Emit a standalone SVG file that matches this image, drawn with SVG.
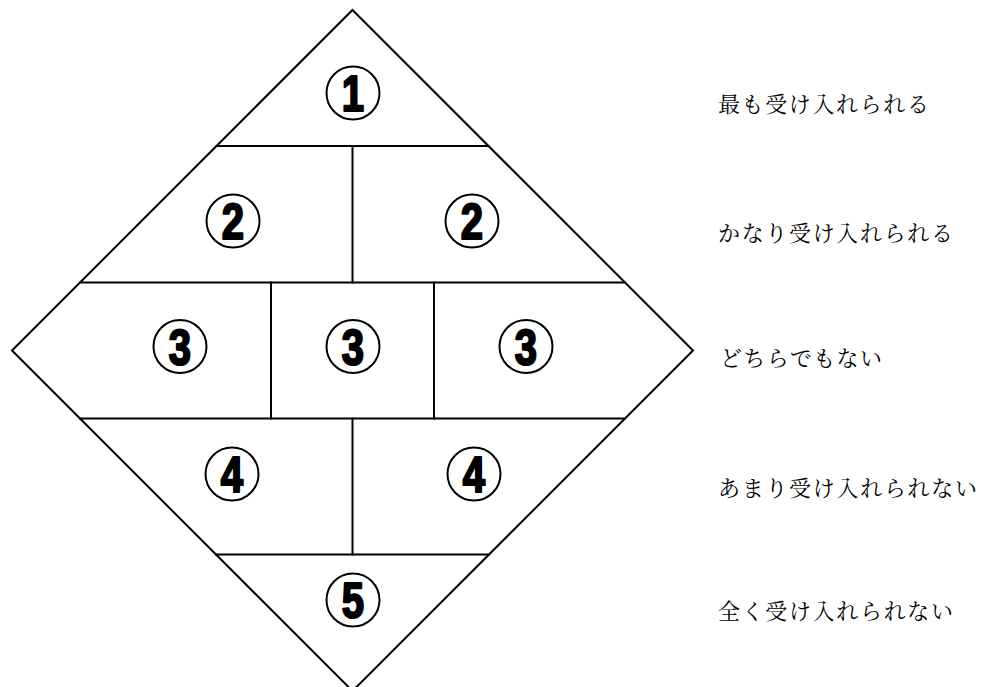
<svg xmlns="http://www.w3.org/2000/svg" width="991" height="687" viewBox="0 0 991 687">
  <style>
    .ln { stroke: #000; stroke-width: 2; fill: none; stroke-linecap: square; }
    .ring { fill: #fff; stroke: #000; stroke-width: 2; }
    .num { font-family: "Liberation Sans", Arial, sans-serif; font-weight: bold; font-size: 50px; fill: #000; stroke: #000; stroke-width: 2.2; stroke-linejoin: round; text-anchor: middle; }
    .lbl { font-family: "Noto Serif CJK JP", "Noto Sans CJK JP", serif; font-size: 22px; fill: #000; }
  </style>
  <rect width="991" height="687" fill="#fff"/>
  <g id="connectors">
    <polygon class="ln" points="352.5,10 693,350.5 352.5,691 12,350.5"/>
    <line class="ln" x1="216.5" y1="146" x2="488.5" y2="146"/>
    <line class="ln" x1="80" y1="282.5" x2="625" y2="282.5"/>
    <line class="ln" x1="80" y1="418.5" x2="625" y2="418.5"/>
    <line class="ln" x1="216" y1="554.5" x2="489" y2="554.5"/>
    <line class="ln" x1="352.5" y1="146" x2="352.5" y2="282.5"/>
    <line class="ln" x1="271" y1="282.5" x2="271" y2="418.5"/>
    <line class="ln" x1="434" y1="282.5" x2="434" y2="418.5"/>
    <line class="ln" x1="352.5" y1="418.5" x2="352.5" y2="554.5"/>
  </g>
  <g id="n1" transform="translate(353,93)"><circle class="ring" r="26.5"/><text class="num" transform="scale(0.8,1)" y="18">1</text></g>
  <g id="n2a" transform="translate(233,221)"><circle class="ring" r="26.5"/><text class="num" transform="scale(0.8,1)" y="18">2</text></g>
  <g id="n2b" transform="translate(472,221)"><circle class="ring" r="26.5"/><text class="num" transform="scale(0.8,1)" y="18">2</text></g>
  <g id="n3a" transform="translate(180,346.5)"><circle class="ring" r="26.5"/><text class="num" transform="scale(0.8,1)" y="18">3</text></g>
  <g id="n3b" transform="translate(353,346.5)"><circle class="ring" r="26.5"/><text class="num" transform="scale(0.8,1)" y="18">3</text></g>
  <g id="n3c" transform="translate(526,346.5)"><circle class="ring" r="26.5"/><text class="num" transform="scale(0.8,1)" y="18">3</text></g>
  <g id="n4a" transform="translate(232,474)"><circle class="ring" r="26.5"/><text class="num" transform="scale(0.8,1)" y="18">4</text></g>
  <g id="n4b" transform="translate(474,474)"><circle class="ring" r="26.5"/><text class="num" transform="scale(0.8,1)" y="18">4</text></g>
  <g id="n5" transform="translate(353,600)"><circle class="ring" r="26.5"/><text class="num" transform="scale(0.8,1)" y="18">5</text></g>
  <g id="labels">
    <text class="lbl" x="718" y="112" textLength="211" lengthAdjust="spacing">最も受け入れられる</text>
    <text class="lbl" x="718" y="241" textLength="235" lengthAdjust="spacing">かなり受け入れられる</text>
    <text class="lbl" x="720" y="366" textLength="162" lengthAdjust="spacing">どちらでもない</text>
    <text class="lbl" x="718" y="496" textLength="259" lengthAdjust="spacing">あまり受け入れられない</text>
    <text class="lbl" x="718" y="619" textLength="235" lengthAdjust="spacing">全く受け入れられない</text>
  </g>
</svg>
